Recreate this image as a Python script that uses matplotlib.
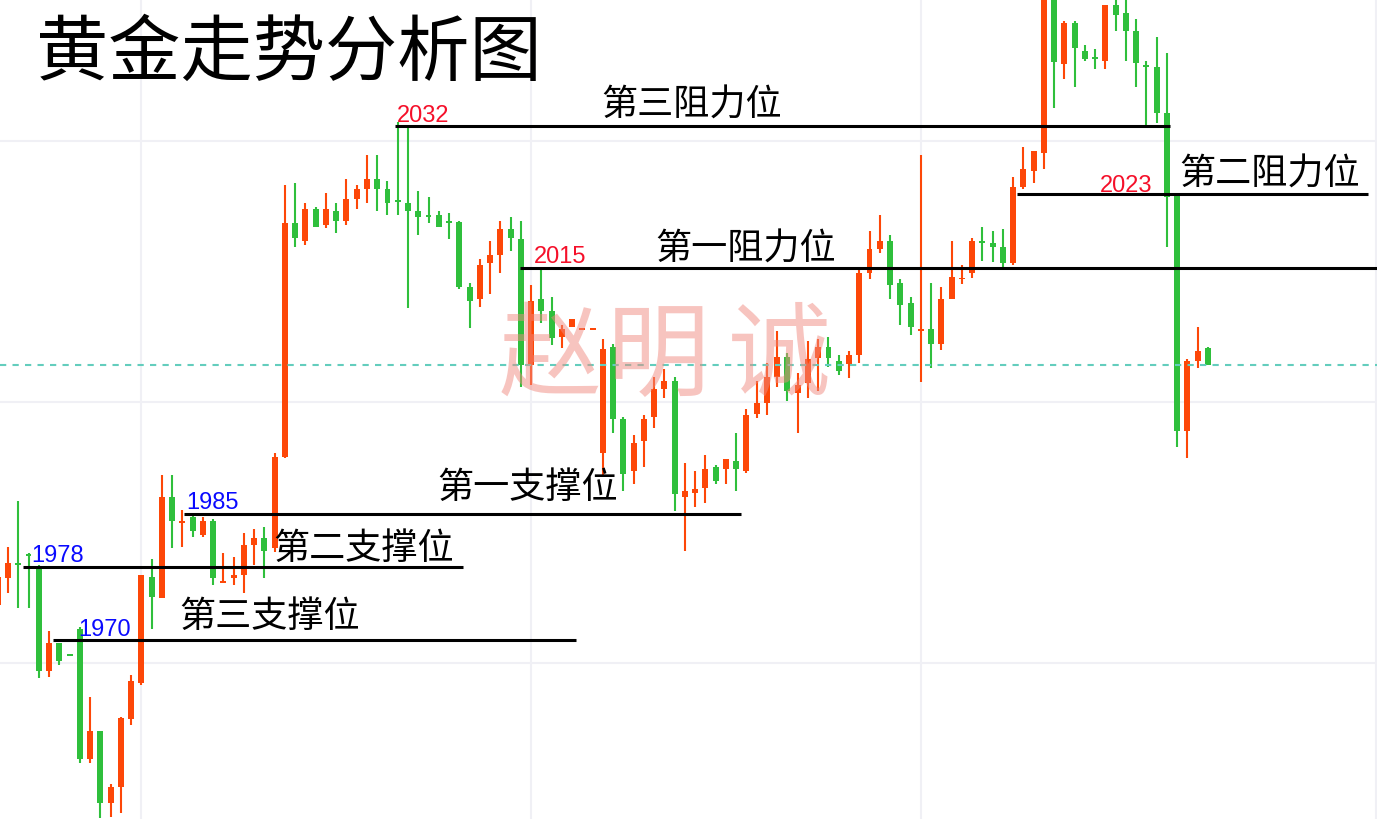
import matplotlib.pyplot as plt
import numpy as np

plt.rcParams['font.family'] = ['Noto Sans CJK SC', 'DejaVu Sans']

# -------------------
# OHLC values (one per candle, left to right)
# -------------------
opens = [1976.7, 1979.8, 1981.5, 1982.5, 1981.0, 1969.1, 1972.3, 1970.9, 1973.9, 1959.0,
         1962.2, 1953.9, 1955.7, 1963.6, 1967.7, 1979.9, 1977.5, 1989.1, 1986.1, 1986.8,
         1984.7, 1986.3, 1979.2, 1979.8, 1980.1, 1983.6, 1984.4, 1983.2, 1993.7, 2020.6,
         2018.5, 2022.2, 2020.3, 2022.0, 2020.8, 2023.3, 2024.5, 2025.6, 2024.5, 2023.2,
         2022.9, 2022.0, 2021.4, 2021.5, 2020.8, 2020.7, 2013.2, 2011.8, 2016.0, 2016.9,
         2019.9, 2018.7, 2004.2, 2011.8, 2010.5, 2007.5, 2008.6, 2008.3, 2008.3, 1994.1,
         2006.3, 1998.0, 1992.1, 1995.5, 1998.3, 2001.5, 2002.4, 1989.1, 1989.5, 1990.1,
         1992.5, 1992.3, 1993.2, 1992.1, 1998.6, 1999.9, 2002.9, 2005.2, 2001.0, 2002.2,
         2005.1, 2006.3, 2004.7, 2004.4, 2005.4, 2014.8, 2017.6, 2018.5, 2013.7, 2011.4,
         2008.2, 2008.4, 2006.7, 2011.8, 2014.1, 2014.8, 2018.4, 2018.3, 2017.8, 2016.0,
         2024.7, 2026.5, 2028.6, 2047.3, 2038.8, 2043.6, 2040.3, 2039.5, 2039.2, 2045.6,
         2044.7, 2042.6, 2038.6, 2038.5, 2033.2, 2023.7, 1996.7, 2004.7, 2006.2]
highs = [1979.9, 1983.3, 1988.6, 1982.6, 1981.3, 1973.7, 1972.3, 1970.9, 1974.1, 1966.1,
         1962.2, 1956.1, 1963.8, 1968.6, 1980.1, 1982.0, 1991.6, 1991.6, 1987.6, 1987.0,
         1986.8, 1986.5, 1982.6, 1982.2, 1984.9, 1985.4, 1985.6, 1994.1, 2024.9, 2025.2,
         2022.9, 2022.4, 2024.0, 2022.9, 2025.6, 2024.9, 2028.4, 2028.4, 2025.4, 2032.2,
         2031.8, 2024.2, 2023.6, 2022.0, 2021.7, 2020.8, 2013.7, 2016.4, 2018.5, 2020.8,
         2021.3, 2020.8, 2013.4, 2015.3, 2012.1, 2008.8, 2009.5, 2008.3, 2008.3, 2007.2,
         2006.7, 1998.3, 1996.2, 1998.5, 2002.9, 2003.8, 2002.9, 1993.0, 1992.1, 1993.9,
         1992.8, 1993.4, 1996.4, 1999.2, 2002.4, 2004.5, 2008.2, 2005.6, 2003.3, 2007.0,
         2007.2, 2007.5, 2005.4, 2005.9, 2015.2, 2019.6, 2021.5, 2019.2, 2014.1, 2012.1,
         2028.4, 2013.7, 2013.2, 2018.5, 2015.7, 2018.9, 2020.1, 2019.6, 2019.9, 2025.9,
         2029.3, 2028.8, 2047.8, 2048.0, 2043.8, 2043.8, 2041.0, 2040.6, 2045.6, 2046.8,
         2046.8, 2044.0, 2039.2, 2041.9, 2040.1, 2023.7, 2004.9, 2008.6, 2006.3]
lows = [1976.7, 1978.0, 1976.3, 1976.3, 1968.3, 1968.4, 1969.8, 1970.8, 1958.5, 1958.5,
        1952.2, 1952.3, 1952.8, 1962.9, 1967.5, 1973.9, 1977.5, 1983.2, 1983.3, 1984.5,
        1984.5, 1979.0, 1979.2, 1979.0, 1978.0, 1981.3, 1979.8, 1982.8, 1993.6, 2017.8,
        2018.0, 2020.1, 2020.0, 2019.4, 2020.3, 2022.2, 2022.9, 2022.0, 2021.5, 2021.5,
        2010.8, 2019.2, 2020.6, 2020.1, 2018.7, 2013.0, 2008.5, 2010.9, 2012.4, 2014.8,
        2017.3, 2001.7, 2002.0, 2009.1, 2006.5, 2006.2, 2008.6, 2008.3, 2008.3, 1991.4,
        1996.4, 1989.8, 1990.6, 1992.5, 1997.0, 2000.5, 1987.5, 1982.9, 1987.9, 1988.4,
        1990.6, 1990.6, 1989.8, 1991.8, 1998.2, 1998.5, 2001.7, 2000.1, 1996.4, 2000.5,
        2001.3, 2004.0, 2003.1, 2002.8, 2004.5, 2014.1, 2017.1, 2011.8, 2008.8, 2007.7,
        2002.3, 2003.9, 2006.0, 2011.8, 2013.6, 2014.2, 2016.2, 2016.1, 2015.5, 2015.7,
        2024.5, 2025.2, 2026.8, 2033.8, 2037.1, 2036.2, 2039.2, 2038.3, 2038.3, 2042.6,
        2039.2, 2036.2, 2031.8, 2032.1, 2017.8, 1994.8, 1993.6, 2003.9, 2004.2]
closes = [1979.9, 1981.5, 1981.3, 1982.3, 1969.1, 1972.3, 1970.2, 1970.8, 1959.0, 1962.2,
          1953.9, 1955.7, 1963.7, 1967.9, 1980.1, 1977.6, 1989.1, 1986.3, 1986.3, 1985.2,
          1986.3, 1979.8, 1979.4, 1980.1, 1983.6, 1984.4, 1982.9, 1993.7, 2020.6, 2018.8,
          2022.2, 2020.1, 2022.2, 2020.8, 2023.3, 2024.5, 2025.6, 2024.5, 2022.9, 2023.0,
          2022.0, 2021.3, 2021.3, 2020.1, 2020.6, 2013.2, 2011.6, 2015.7, 2016.9, 2019.9,
          2018.9, 2004.2, 2011.6, 2010.5, 2007.4, 2008.4, 2009.5, 2008.3, 2008.3, 2006.1,
          1998.0, 1991.7, 1995.3, 1998.0, 2001.5, 2002.4, 1989.4, 1989.8, 1990.0, 1992.3,
          1990.9, 1993.4, 1992.3, 1998.5, 1999.9, 2002.9, 2005.2, 2001.3, 2002.0, 2004.9,
          2006.3, 2005.1, 2003.6, 2005.4, 2014.8, 2017.6, 2018.5, 2013.4, 2011.1, 2008.6,
          2008.4, 2006.7, 2011.8, 2014.4, 2014.2, 2018.5, 2018.3, 2017.8, 2016.0, 2024.7,
          2026.8, 2028.8, 2047.3, 2039.1, 2043.6, 2040.7, 2039.4, 2039.4, 2045.6, 2044.5,
          2042.6, 2039.0, 2038.5, 2033.2, 2023.6, 1996.7, 2004.7, 2005.9, 2004.2]

# support / resistance levels as drawn, and their labels
level_prices = [2031.7, 2023.9, 2015.4, 1987.1, 1981.0, 1972.6]
level_labels = ['2032', '2023', '2015', '1985', '1978', '1970']
level_names = ['第三阻力位', '第二阻力位', '第一阻力位', '第一支撑位', '第二支撑位', '第三支撑位']

RED = '#fd4708'
GREEN = '#2fbf3c'

fig = plt.figure(figsize=(13.77, 8.19), dpi=100)
ax = fig.add_axes([0, 0, 1, 1])
ax.set_xlim(0.22, 134.48)
ax.set_ylim(1952.06, 2046.2)
ax.axis('off')

# faint grid
for gx in (14, 52, 90, 134.42):
    ax.axvline(gx, color='#f0f0f5', lw=1.5, zorder=0)
for gy in (1970, 2000, 2030):
    ax.axhline(gy, color='#f0f0f5', lw=1.5, zorder=0)

# -------------------
# candles
# -------------------
o = np.array(opens)
c = np.array(closes)
x = np.arange(len(o))
colors = np.where(c >= o, RED, GREEN)
ax.vlines(x, lows, highs, colors=colors, lw=1.5, zorder=2)
ax.bar(x, np.maximum(np.abs(c - o), 0.2), bottom=np.minimum(o, c), width=0.58,
       color=colors, linewidth=0, zorder=3)

# last price line
ax.axhline(closes[-1], color='#63cdbd', lw=1.5, dashes=(3, 3), zorder=4)

# -------------------
# support / resistance lines and labels
# -------------------
spans = [(38.73, 114.3), (99.38, 133.6), (50.92, 134.48), (18.16, 72.47), (2.46, 45.36), (5.39, 56.38)]
for lvl, (x0, x1) in zip(level_prices, spans):
    ax.hlines(lvl, x0, x1, color='black', lw=2.2, zorder=5)

num_pos = [(38.93, 2032.2), (107.47, 2024.1), (52.29, 2016.0), (18.36, 1987.7), (3.24, 1981.6), (7.83, 1973.1)]
num_col = ['#f5102a', '#f5102a', '#f5102a', '#0a0aff', '#0a0aff', '#0a0aff']
for lab, (tx, ty), col in zip(level_labels, num_pos, num_col):
    ax.text(tx, ty, lab, fontsize=17, color=col, family='Liberation Sans',
            ha='left', va='baseline', zorder=6)

name_pos = [(58.82, 2034.1), (115.18, 2026.1), (64.08, 2017.5), (42.83, 1990.1), (26.84, 1983.1), (17.67, 1975.3)]
for name, (tx, ty) in zip(level_names, name_pos):
    ax.text(tx, ty, name, fontsize=26, color='black', ha='left', va='center', zorder=6)

# watermark
for ch, wx in zip('赵明诚', (53.85, 64.38, 76.18)):
    ax.text(wx, 2005.0, ch, fontsize=74, color='#f08a80', alpha=0.5,
            ha='center', va='center', zorder=7)

fig.text(0.026, 0.934, '黄金走势分析图', fontsize=52, fontweight='light', color='black',
         ha='left', va='center')

fig.savefig('out.png', dpi=100)
